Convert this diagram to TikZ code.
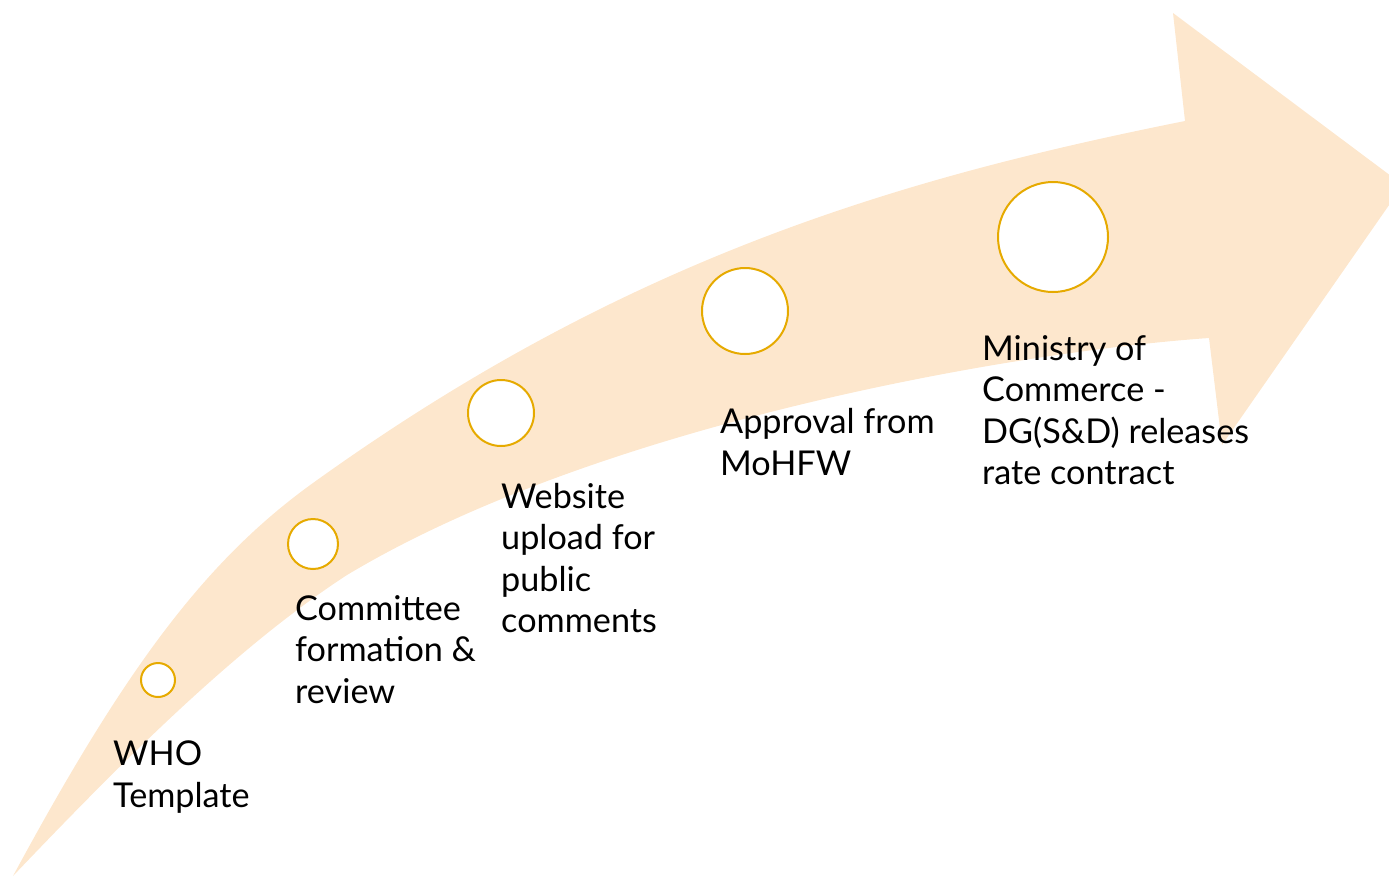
\documentclass[tikz,border=0pt]{standalone}
\usepackage{fontspec}
\setmainfont{Lato}
\begin{document}
\begin{tikzpicture}[x=1pt,y=-1pt,
  arrowfill/.style={fill={rgb,255:red,253;green,231;blue,205}},
  stepcircle/.style={circle,draw={rgb,255:red,230;green,170;blue,0},line width=2pt,fill=white,inner sep=0pt},
  steplabel/.style={anchor=base west,align=left,inner sep=0pt,font=\fontsize{34.2}{41.5}\selectfont}]
\useasboundingbox (0,0) rectangle (1389,876);
\clip (0,0) rectangle (1389,876);
\fill[arrowfill] (13,876) .. controls (123,672.5) and (203,562) .. (313,483)
  .. controls (623,260) and (895,179) .. (1185,121)
  -- (1173,13) -- (1403,185) -- (1222,445) -- (1209,338)
  .. controls (1009,352) and (597,425) .. (347,575)
  .. controls (237,646.5) and (123,760.5) .. (13,876)
  -- cycle;
\node[stepcircle,minimum size=34pt] (c1) at (158,680) {};
\node[stepcircle,minimum size=50pt] (c2) at (313,544) {};
\node[stepcircle,minimum size=66pt] (c3) at (501,413) {};
\node[stepcircle,minimum size=86pt] (c4) at (745,311) {};
\node[stepcircle,minimum size=110pt] (c5) at (1053,237) {};
\node[steplabel] (t1) at (113,807) {WHO\\Template};
\node[steplabel] (t2) at (295,703) {Committee\\formation \&\\review};
\node[steplabel] (t3) at (501,632.5) {Website\\upload for\\public\\comments};
\node[steplabel] (t4) at (720,475) {Approval from\\MoHFW};
\node[steplabel] (t5) at (982,484.5) {Ministry of\\Commerce -\\DG(S\&D) releases\\rate contract};
\end{tikzpicture}
\end{document}
